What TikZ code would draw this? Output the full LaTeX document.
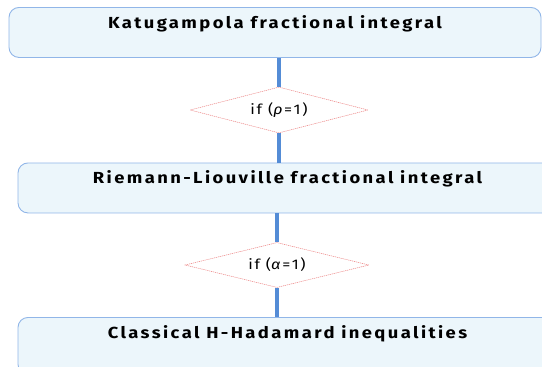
\documentclass[tikz,border=0pt]{standalone}
\usepackage{fontspec}
\usetikzlibrary{shapes.geometric}
\newfontfamily\stagefont{Fira Sans}[LetterSpace=15,FakeStretch=1.15]
\newfontfamily\testfont{Fira Sans}[LetterSpace=12,FakeStretch=1.15]
\definecolor{flowFill}{RGB}{236,246,251}
\definecolor{flowStroke}{RGB}{145,182,232}
\definecolor{flowLink}{RGB}{84,140,214}
\definecolor{flowTest}{RGB}{236,128,128}
\tikzset{
  stagebox/.style={draw=flowStroke,fill=flowFill,line width=0.9pt,rounded corners=10pt,
    inner xsep=0pt,inner ysep=0pt,text height=21pt,text depth=29pt,
    font=\stagefont\bfseries\fontsize{16}{19}\selectfont},
  testbox/.style={diamond,draw=flowTest,fill=white,line width=0.5pt,dash pattern=on 1.2pt off 0.8pt,
    inner sep=0pt,aspect=3.9,font=\testfont\fontsize{14}{17}\selectfont},
  link/.style={draw=flowLink,line width=4pt}
}
\begin{document}
\begin{tikzpicture}[x=1pt,y=-1pt]
  \useasboundingbox (0,0) rectangle (542,367);
  \clip (0,0) rectangle (542,367);
  \node[stagebox,minimum width=532pt] (katugampola) at (275,7) [anchor=north] {Katugampola fractional integral};
  \node[testbox,minimum width=178pt,minimum height=46pt] (ifrho) at (279,110) {if (\textit{ρ}=1)};
  \node[stagebox,minimum width=539pt] (riemann) at (287.5,162.5) [anchor=north] {Riemann-Liouville fractional integral};
  \node[testbox,minimum width=184pt,minimum height=45pt] (ifalpha) at (277,265) {if (\textit{α}=1)};
  \node[stagebox,minimum width=539pt,text depth=36pt] (hadamard) at (287.5,317) [anchor=north] {Classical H-Hadamard inequalities};
  \draw[link] (ifrho.north) -- (ifrho.north |- katugampola.south);
  \draw[link] (ifrho.south) -- (ifrho.south |- riemann.north);
  \draw[link] (ifalpha.north) -- (ifalpha.north |- riemann.south);
  \draw[link] (ifalpha.south) -- (ifalpha.south |- hadamard.north);
\end{tikzpicture}
\end{document}
